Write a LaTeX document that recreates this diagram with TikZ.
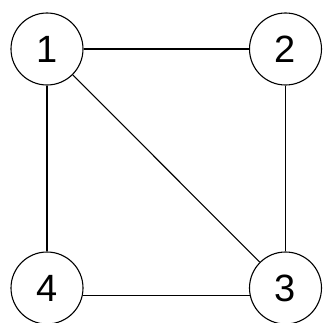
\documentclass[tikz,border=0pt]{standalone}
\usepackage{fontspec}
\setmainfont{Liberation Sans}
\begin{document}
\begin{tikzpicture}[x=1pt,y=1pt,
  vtx/.style={circle,draw=black,line width=1.1pt,minimum size=72pt,inner sep=0pt,font=\fontsize{38}{40}\selectfont},
  edge/.style={line width=1.1pt,black}]
\useasboundingbox (0,0) rectangle (324,322);
\node[vtx] (n1) at (47,273) {1};
\node[vtx] (n2) at (285.5,273) {2};
\node[vtx] (n3) at (285.5,34) {3};
\node[vtx] (n4) at (47,34) {4};
\draw[edge] (n1) -- (n2);
\draw[edge] (n2) -- (n3);
\draw[edge] (n1) -- (n4);
\draw[edge] (n4.-12) -- (n3.192);
\draw[edge] (n1) -- (n3);
\end{tikzpicture}
\end{document}
